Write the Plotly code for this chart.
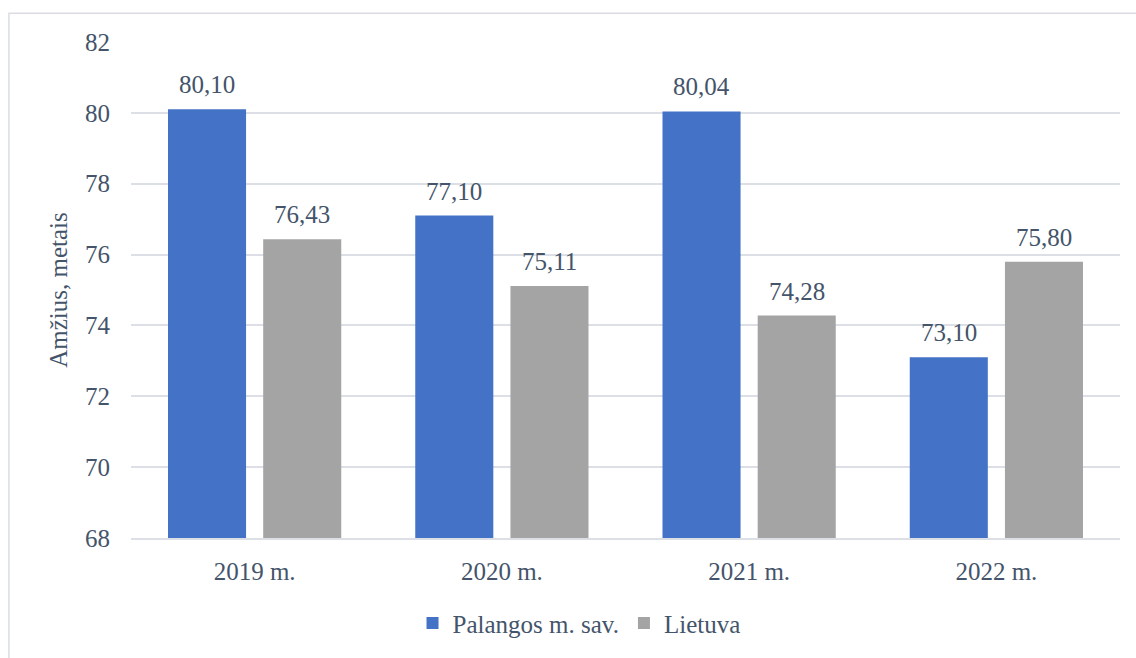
import plotly.graph_objects as go

categories = ["2019 m.", "2020 m.", "2021 m.", "2022 m."]
palanga = [80.10, 77.10, 80.04, 73.10]
lietuva = [76.43, 75.11, 74.28, 75.80]
series_names = ["Palangos m. sav.", "Lietuva"]
y_ticks = [68, 70, 72, 74, 76, 78, 80, 82]

FONT = "Liberation Serif"
TXT = "#44546A"
BLUE = "#4472C6"
BLUE_TOP, BLUE_BOT = "#5F84CC", "#2E5EB8"
GRAY = "#A4A4A4"
GRAY_TOP, GRAY_BOT = "#B0B0B0", "#939393"
FS = 25


def make_marker(top, bottom, flat):
    try:
        return go.bar.Marker(color=top, line=dict(width=0),
                             gradient=dict(type="vertical", color=bottom))
    except Exception:
        return go.bar.Marker(color=flat, line=dict(width=0))


fig = go.Figure()
fig.add_trace(go.Bar(x=categories, y=palanga, name=series_names[0],
                     marker=make_marker(BLUE_TOP, BLUE_BOT, BLUE)))
fig.add_trace(go.Bar(x=categories, y=lietuva, name=series_names[1],
                     marker=make_marker(GRAY_TOP, GRAY_BOT, GRAY)))

annotations = []
for vals, shift in ((palanga, -47.6), (lietuva, 47.6)):
    for c, v in zip(categories, vals):
        annotations.append(dict(x=c, y=v, xref="x", yref="y", xshift=shift, yshift=9,
                                text=f"{v:.2f}".replace(".", ","), showarrow=False,
                                yanchor="bottom", font=dict(family=FONT, size=FS, color=TXT)))
annotations.append(dict(x=-0.074, y=0.5, xref="paper", yref="paper", text="Amžius, metais",
                        textangle=-90, showarrow=False, xanchor="center", yanchor="middle",
                        font=dict(family=FONT, size=FS, color=TXT)))

fig.update_layout(
    width=1136, height=658,
    margin=dict(l=131, r=16, t=42, b=117),
    paper_bgcolor="white", plot_bgcolor="white",
    barmode="group", bargap=0.23, bargroupgap=0.18,
    font=dict(family=FONT, size=FS, color=TXT),
    separators=", ",
    showlegend=True,
    legend=dict(orientation="h", x=0.453, xanchor="center", y=-0.172, yanchor="middle",
                font=dict(family=FONT, size=FS, color=TXT), itemwidth=30,
                tracegroupgap=0),
    annotations=annotations,
    shapes=[dict(type="rect", xref="paper", yref="paper",
                 x0=-0.1234, x1=1.05, y0=-0.3, y1=1.058,
                 line=dict(color="#D9DDE3", width=1.5), fillcolor="rgba(0,0,0,0)", layer="below")],
)
fig.update_yaxes(range=[68, 82], tickvals=y_ticks, showgrid=True, gridcolor="#DCE0E6", gridwidth=1.5,
                 zeroline=False, showline=False, ticklabelstandoff=20,
                 tickfont=dict(family=FONT, size=FS, color=TXT))
fig.update_xaxes(showline=True, linecolor="#DCE0E6", linewidth=1.5, showgrid=False,
                 ticks="", ticklabelstandoff=10,
                 tickfont=dict(family=FONT, size=FS, color=TXT))

fig.write_html("out.html")
